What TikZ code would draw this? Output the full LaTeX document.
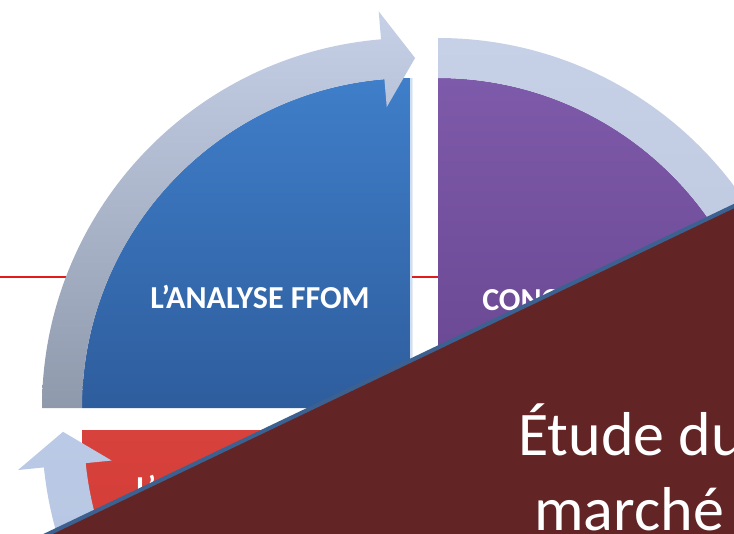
\documentclass[tikz,border=0pt]{standalone}
\usepackage{fontspec}
\setmainfont{Carlito}
\usetikzlibrary{calc}
\definecolor{bluetop}{HTML}{3F7EC9}
\definecolor{bluebot}{HTML}{2E5D9D}
\definecolor{purptop}{HTML}{7E5AAA}
\definecolor{purpbot}{HTML}{684690}
\definecolor{redtop}{HTML}{D8423C}
\definecolor{redbot}{HTML}{C9302E}
\definecolor{ringtop}{HTML}{C6D1E8}
\definecolor{ringbot}{HTML}{8E99AC}
\definecolor{arrowlt}{HTML}{BACAE6}
\definecolor{maroon}{HTML}{622424}
\definecolor{edgeblue}{HTML}{3C6190}
\definecolor{guide}{HTML}{E21B1B}
\tikzset{
  sectortext/.style={text=white, font=\bfseries\fontsize{24}{28}\selectfont, inner sep=0pt},
  bigtext/.style={text=white, font=\fontsize{46.5}{56}\selectfont, inner sep=0pt},
  ringfill/.style={top color=ringtop, bottom color=ringbot},
}
\begin{document}
\begin{tikzpicture}[x=0.75pt,y=0.75pt]
\useasboundingbox (0,0) rectangle (734,533);
\clip (0,0) rectangle (734,533);
\fill[white] (0,0) rectangle (734,533);
% red guide line
\draw[guide, line width=1.5pt] (0,256) -- (440,256);

% blue quarter (top-left)
\begin{scope}[shift={(412,125)}]
  \shade[top color=bluetop, bottom color=bluebot] (0,0) -- (180:330) arc[start angle=180, end angle=90, radius=330] -- cycle;
  \draw[white!75!bluetop, line width=1.2pt] (-1,0) -- (-1,330);
  \shade[ringfill] (180:370) arc[start angle=180, end angle=94.8, radius=370]
     -- (94.8:398) -- (89.5:350) -- (94.8:302) -- (94.8:330)
     arc[start angle=94.8, end angle=180, radius=330] -- cycle;
\end{scope}

% purple quarter (top-right)
\begin{scope}[shift={(438,125)}]
  \shade[top color=purptop, bottom color=purpbot] (0,0) -- (90:330) arc[start angle=90, end angle=0, radius=330] -- cycle;
  \shade[top color=ringtop, bottom color=ringtop!80!ringbot] (90:370) arc[start angle=90, end angle=0, radius=370]
     -- (0:330) arc[start angle=0, end angle=90, radius=330] -- cycle;
\end{scope}

% red quarter (bottom-left)
\begin{scope}[shift={(412,103)}]
  \shade[top color=redtop, bottom color=redbot] (0,0) -- (180:330) arc[start angle=180, end angle=270, radius=330] -- cycle;
  \shade[top color=arrowlt, bottom color=arrowlt!85!ringbot] (265:370) arc[start angle=265, end angle=185.8, radius=370]
     -- (185.8:396) -- (180.3:349) -- (185.8:302) -- (185.8:328)
     arc[start angle=185.8, end angle=265, radius=328] -- cycle;
\end{scope}

% texts in the sectors
\node[sectortext, anchor=base] (ffom) at (260,225) {L’ANALYSE FFOM};
\node[sectortext, anchor=base west] (conc) at (482,223) {CONC};
\node[sectortext, anchor=base west] (lred) at (136,35) {L’};

% maroon overlay
\coordinate (ovA) at (-20,-33.5);
\coordinate (ovB) at (760,339.4);
\fill[maroon] (ovA) -- (ovB) -- (760,-40) -- cycle;
\draw[edgeblue, line width=3pt] (ovA) -- (ovB);

\node[bigtext, anchor=base] (etude) at (631,78) {Étude du};
\node[bigtext, anchor=base] (marche) at (629,3) {marché};
\end{tikzpicture}
\end{document}
